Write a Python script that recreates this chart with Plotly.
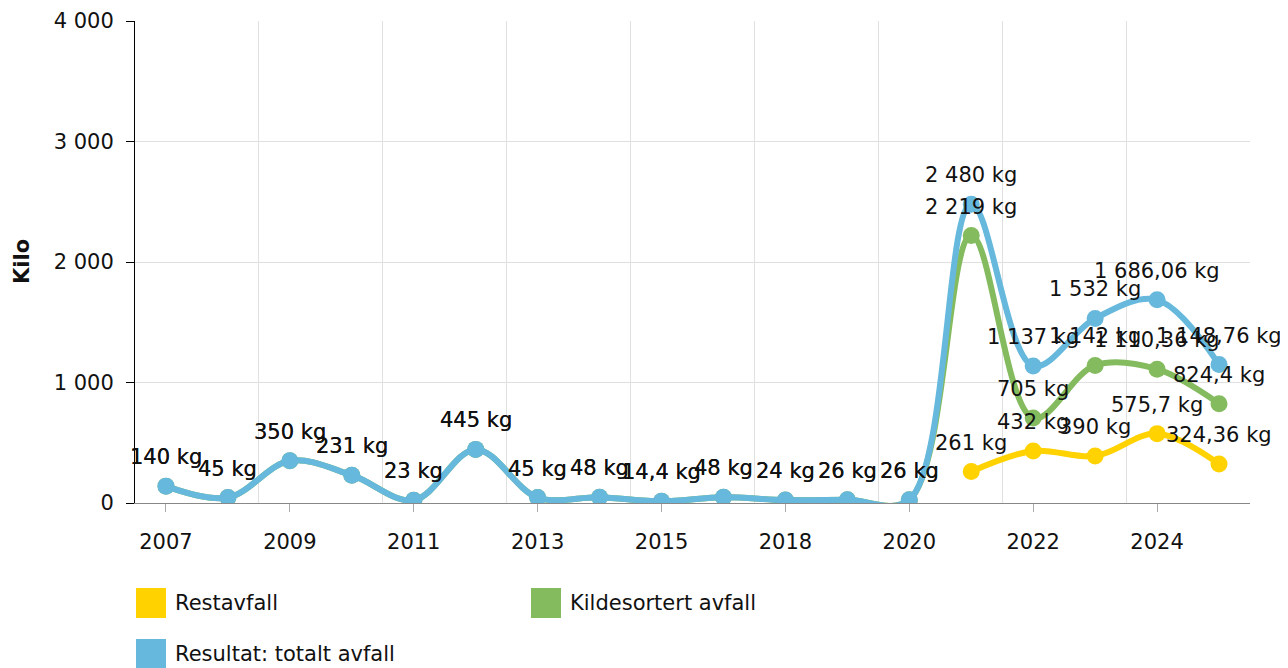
import plotly.graph_objects as go

# data
years = ["2007", "2008", "2009", "2010", "2011", "2012", "2013", "2014", "2015",
         "2017", "2018", "2019", "2020", "2021", "2022", "2023", "2024", "2025"]
totalt = [140, 45, 350, 231, 23, 445, 45, 48, 14.4, 48, 24, 26, 26,
          2480, 1137, 1532, 1686.06, 1148.76]
restavfall = [None] * 13 + [261, 432, 390, 575.7, 324.36]
kildesortert = [140, 45, 350, 231, 23, 445, 45, 48, 14.4, 48, 24, 26, 26,
                2219, 705, 1142, 1110.36, 824.4]

series = [
    ("Restavfall", restavfall, "#FFD200"),
    ("Kildesortert avfall", kildesortert, "#84BB5F"),
    ("Resultat: totalt avfall", totalt, "#66B8DC"),
]

FONT = "DejaVu Sans, Verdana, sans-serif"
FS = 21
OFF = 8  # page offset of the figure inside the window
W, H = 1280, 660
L, R, T, B = 135 - OFF, 38, 21 - OFF, 165
PW, PH = W - L - R, H - T - B


def fmt(v):
    # norwegian style: space for thousands, comma for decimals
    return f"{v:,}".replace(",", " ").replace(".", ",") + " kg"


# window pixel -> paper coords
def px(x):
    return (x - OFF - L) / PW


def py(y):
    return (H - B - (y - OFF)) / PH


xs = list(range(len(years)))
fig = go.Figure()
annotations = []

for name, vals, color in series:
    fig.add_trace(go.Scatter(
        x=xs, y=vals, name=name, mode="lines+markers",
        line=dict(color=color, width=6, shape="spline", smoothing=1),
        marker=dict(color=color, size=17),
        showlegend=False,
    ))
    for x, v in zip(xs, vals):
        if v is None:
            continue
        annotations.append(dict(
            x=x, y=v, text=fmt(v), showarrow=False, yshift=29,
            font=dict(size=FS, color="#111111", family=FONT),
        ))

# legend drawn by hand (big square swatches)
legend_pos = [(136, 588), (531, 588), (136, 639)]
shapes = []
for (name, vals, color), (lx, ly) in zip(series, legend_pos):
    shapes.append(dict(
        type="rect", xref="paper", yref="paper",
        x0=px(lx), x1=px(lx + 30), y0=py(ly), y1=py(ly + 30),
        fillcolor=color, line=dict(width=0),
    ))
    annotations.append(dict(
        xref="paper", yref="paper", x=px(lx + 37), y=py(ly + 15),
        xanchor="left", yanchor="middle", text=name, showarrow=False,
        font=dict(size=FS, color="#111111", family=FONT),
    ))

# y axis title
annotations.append(dict(
    xref="paper", yref="paper", x=px(22), y=0.5, text="<b>Kilo</b>",
    textangle=-90, showarrow=False, xanchor="center", yanchor="middle",
    font=dict(size=FS, color="#111111", family=FONT),
))

fig.update_layout(
    width=W, height=H,
    margin=dict(l=L, r=R, t=T, b=B),
    paper_bgcolor="white", plot_bgcolor="white",
    separators=", ",
    font=dict(family=FONT, size=FS, color="#111111"),
    annotations=annotations,
    shapes=shapes,
    xaxis=dict(
        range=[-0.5, len(years) - 0.5], automargin=False,
        tickmode="array", tickvals=xs[::2], ticktext=years[::2],
        showgrid=False, zeroline=False,
        showline=True, linecolor="#888888", linewidth=1,
        ticks="outside", ticklen=8, tickcolor="#AAAAAA",
        ticklabelstandoff=12,
        minor=dict(tickmode="array", tickvals=[i + 0.5 for i in xs[1::2]],
                   showgrid=True, gridcolor="#E0E0E0", gridwidth=1, ticklen=0),
    ),
    yaxis=dict(
        range=[0, 4000], dtick=1000, tickformat=",d", automargin=False,
        showgrid=True, gridcolor="#E0E0E0", gridwidth=1, zeroline=False,
        showline=True, linecolor="#000000", linewidth=1,
        ticks="outside", ticklen=8, tickcolor="#000000",
        ticklabelstandoff=8,
    ),
)

fig.write_html("out.html")
